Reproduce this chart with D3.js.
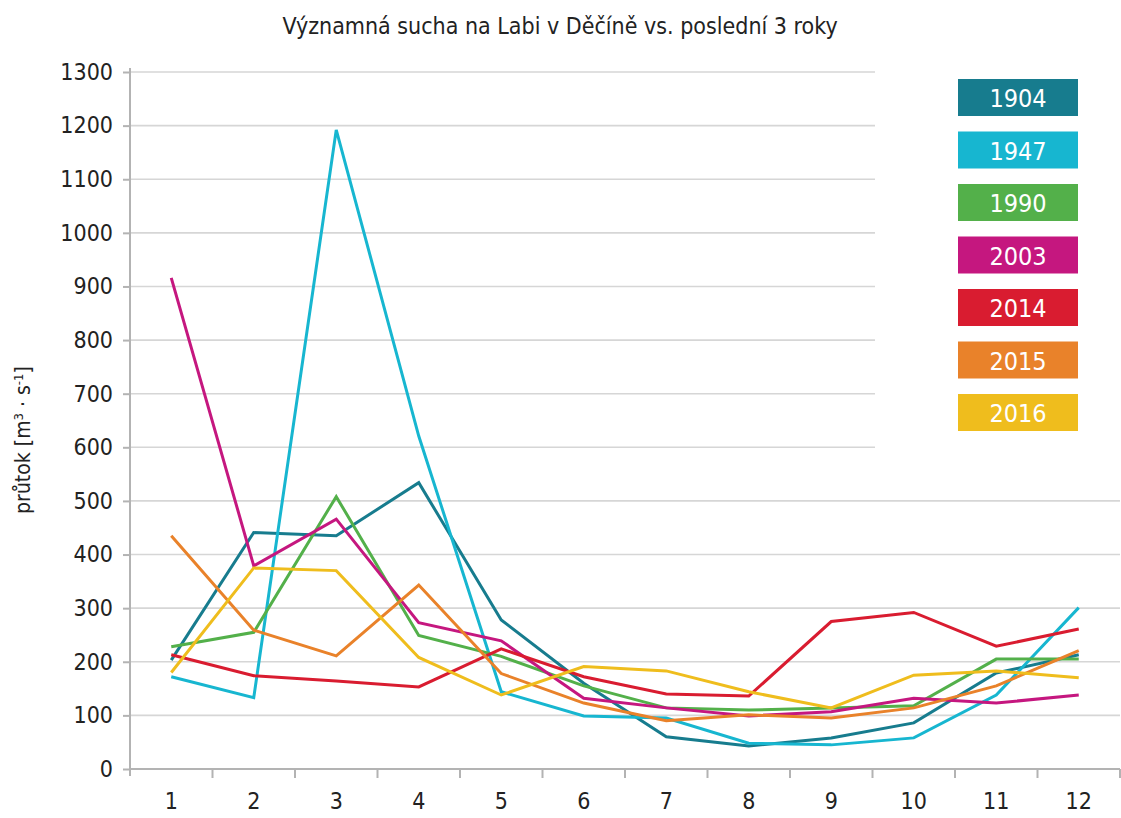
<!DOCTYPE html>
<html>
<head>
<meta charset="utf-8">
<script src="https://cdn.jsdelivr.net/npm/d3@7"></script>
<style>
  body { margin: 0; background: #fff; }
  svg { display: block; font-family: "Liberation Sans Narrow", "DejaVu Sans Condensed", "Arial Narrow", sans-serif; }
</style>
</head>
<body>
<svg id="chart" width="1121" height="818"></svg>
<script>
// data
var months = ['1', '2', '3', '4', '5', '6', '7', '8', '9', '10', '11', '12']
var years = ['1904', '1947', '1990', '2003', '2014', '2015', '2016']
var colors = ['#177c8e', '#17b6d0', '#53b04a', '#c5177f', '#d91c30', '#e9822a', '#efbd1d']

var flow1904 = [203, 441, 435, 534, 278, 160, 60, 43, 58, 86, 179, 213]
var flow1947 = [172, 133, 1192, 621, 144, 99, 95, 48, 45, 58, 138, 301]
var flow1990 = [228, 255, 508, 249, 210, 155, 114, 110, 114, 118, 205, 205]
var flow2003 = [916, 379, 466, 273, 239, 132, 114, 99, 107, 132, 123, 138]
var flow2014 = [213, 174, 164, 153, 224, 172, 140, 136, 275, 292, 229, 261]
var flow2015 = [435, 259, 211, 343, 178, 123, 90, 101, 95, 114, 155, 221]
var flow2016 = [180, 375, 370, 208, 138, 191, 183, 144, 114, 175, 183, 170]

var series = [flow1904, flow1947, flow1990, flow2003, flow2014, flow2015, flow2016]
var yTicks = d3.range(0, 1301, 100)

var svg = d3.select('#chart')
var plotLeft = 130
var plotRight = 1120
var plotTop = 72
var plotBottom = 769

var x = d3.scaleBand()
  .domain(months)
  .range([plotLeft, plotRight])

var y = d3.scaleLinear()
  .domain([0, 1300])
  .range([plotBottom, plotTop])

// title
svg.append('text')
  .attr('x', 560)
  .attr('y', 34)
  .attr('text-anchor', 'middle')
  .style('font-size', '23px')
  .style('fill', '#222')
  .text('Významná sucha na Labi v Děčíně vs. poslední 3 roky')

// gridlines (upper ones stop short of the legend)
svg.append('g')
  .selectAll('line')
  .data(yTicks.filter(function (d) { return d > 0 }))
  .enter()
  .append('line')
  .attr('x1', plotLeft)
  .attr('x2', function (d) { return d >= 600 ? 875 : plotRight })
  .attr('y1', function (d) { return y(d) })
  .attr('y2', function (d) { return y(d) })
  .style('stroke', '#d6d6d6')
  .style('stroke-width', 1.6)

// y axis
var yAxis = svg.append('g')
  .attr('transform', 'translate(' + plotLeft + ',0)')
  .call(d3.axisLeft(y).tickValues(yTicks).tickFormat(d3.format('d')).tickSize(7).tickPadding(10))
  .attr('font-family', null)
  .attr('font-size', null)

yAxis.select('.domain')
  .attr('d', 'M0,' + (plotTop - 4) + 'V' + (plotBottom + 7))

// x axis with ticks at the band edges
var xAxis = svg.append('g')
  .attr('transform', 'translate(0,' + plotBottom + ')')
  .call(d3.axisBottom(x).tickSize(0).tickPadding(24))
  .attr('font-family', null)
  .attr('font-size', null)

xAxis.select('.domain')
  .attr('d', 'M' + plotLeft + ',0H' + plotRight)

xAxis.selectAll('.edge')
  .data(d3.range(1, 13))
  .enter()
  .append('line')
  .attr('class', 'edge')
  .attr('x1', function (d) { return plotLeft + d * x.bandwidth() })
  .attr('x2', function (d) { return plotLeft + d * x.bandwidth() })
  .attr('y1', 0)
  .attr('y2', 9)

svg.selectAll('.domain, .tick line, .edge')
  .style('stroke', '#b3b3b3')
  .style('stroke-width', 2)

svg.selectAll('.tick text')
  .style('font-size', '23px')
  .style('fill', '#222')

// y axis title
svg.append('text')
  .attr('transform', 'translate(30,440) rotate(-90)')
  .attr('text-anchor', 'middle')
  .style('font-size', '21px')
  .style('fill', '#222')
  .html('průtok [m<tspan baseline-shift="super" font-size="13px">3</tspan> · s<tspan baseline-shift="super" font-size="13px">-1</tspan>]')

// lines
var line = d3.line()
  .x(function (d, i) { return x(months[i]) + x.bandwidth() / 2 })
  .y(function (d) { return y(d) })

svg.append('g')
  .selectAll('path')
  .data(series)
  .enter()
  .append('path')
  .attr('d', line)
  .style('fill', 'none')
  .style('stroke', function (d, i) { return colors[i] })
  .style('stroke-width', 3)
  .style('stroke-linejoin', 'miter')

// legend boxes
var legend = svg.append('g')
  .selectAll('g')
  .data(years)
  .enter()
  .append('g')
  .attr('transform', function (d, i) { return 'translate(958,' + (79 + i * 52.5) + ')' })

legend.append('rect')
  .attr('width', 120)
  .attr('height', 37)
  .style('fill', function (d, i) { return colors[i] })

legend.append('text')
  .attr('x', 60)
  .attr('y', 28)
  .attr('text-anchor', 'middle')
  .style('font-size', '25px')
  .style('fill', '#fff')
  .text(function (d) { return d })
</script>
</body>
</html>
